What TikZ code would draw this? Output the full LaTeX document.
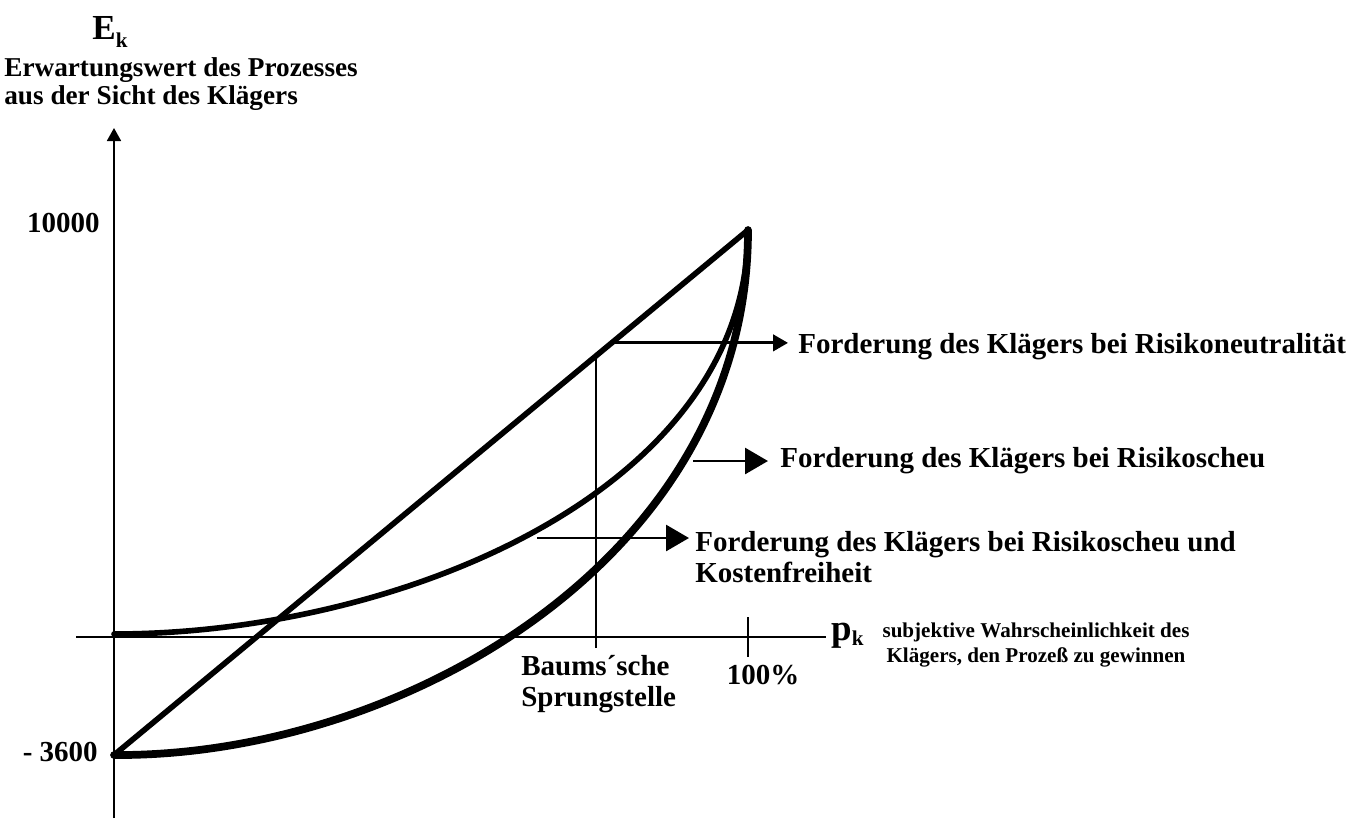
\documentclass[tikz,border=0pt]{standalone}
\usepackage{fontspec}
\setmainfont{Liberation Serif}
\usetikzlibrary{arrows.meta,calc}

\begin{document}
\begin{tikzpicture}[x=0.02cm,y=-0.02cm]
    \tikzset{
        lbl/.style={font=\bfseries\fontsize{16.5}{17.5}\selectfont, inner sep=0pt},
        small lbl/.style={font=\bfseries\fontsize{12}{14}\selectfont, inner sep=0pt},
        axis/.style={line width=1pt},
        thin line/.style={line width=1.5pt},
        curve/.style={line width=3.2pt, line cap=round, line join=round},
        pointer/.style={line width=1.6pt, -{Triangle[length=0.46cm,width=0.52cm]}},
        small pointer/.style={line width=1.6pt, -{Triangle[length=0.3cm,width=0.33cm]}}
    }
    \useasboundingbox (0,0) rectangle (1365,819);

    % Points
    \coordinate (ybot) at (114,818);
    \coordinate (ytop) at (114,128);
    \coordinate (xleft) at (76,637);
    \coordinate (xright) at (826,637);
    \coordinate (low) at (114,755);
    \coordinate (zero) at (114,634);
    \coordinate (top) at (748,230);
    \coordinate (baums) at ($(low)!0.76!(top)$);
    \coordinate (baumsfoot) at (baums |- 0,648);
    \coordinate (tickup) at (748,617);
    \coordinate (tickdown) at (748,657);
    \coordinate (neutral) at ($(low)!0.785!(top)$);
    \coordinate (scheu) at (693,461);
    \coordinate (frei) at (537,538);

    % Nodes
    \node (Ek) [anchor=base] at (110,39) {\bfseries\fontsize{20}{20}\selectfont E\raisebox{-0.25em}{\fontsize{12}{12}\selectfont k}};
    \node (yname) [anchor=west, align=left, inner sep=0pt, font=\bfseries\fontsize{15.5}{15.5}\selectfont] at (4,84)
        {Erwartungswert des Prozesses\\aus der Sicht des Klägers};
    \node (max) [lbl, anchor=east] at (100,223) {10000};
    \node (min) [lbl, anchor=east] at (98,752) {- 3600};
    \node (pk) [anchor=base west, inner sep=0pt] at (831,640) {\bfseries\fontsize{21}{21}\selectfont p\raisebox{-0.15em}{\fontsize{12}{12}\selectfont k}};
    \node (xname) [small lbl, align=center] at (1036,645)
        {subjektive Wahrscheinlichkeit des\\Klägers, den Prozeß zu gewinnen};
    \node (sprung) [lbl, anchor=west, align=left] at (521,684) {Baums´sche\\Sprungstelle};
    \node (hundert) [lbl] at (763,675) {100\%};
    \node (tneutral) [lbl, anchor=west] at (798,347) {Forderung des Klägers bei Risikoneutralität};
    \node (tscheu) [lbl, anchor=west] at (780,461) {Forderung des Klägers bei Risikoscheu};
    \node (tfrei) [lbl, anchor=west, align=left] at (695,557) {Forderung des Klägers bei Risikoscheu und\\Kostenfreiheit};

    % Axes
    \draw [axis, -{Triangle[length=0.26cm,width=0.28cm]}] (ybot) -- (ytop);
    \draw [axis] (xleft) -- (xright);
    \draw [thin line] (tickup) -- (tickdown);
    \draw [thin line] (baumsfoot) -- (baums);

    % Curves
    \draw [curve] (low) -- (top);
    \draw [curve] (zero) .. controls (400,634) and (748,490) .. (top);
    \draw [curve, line width=4.4pt] (low) .. controls (400,757) and (748,560) .. (top);

    % Arrows
    \draw [small pointer] (neutral) -- ($(neutral -| tneutral.west)+(-10,0)$);
    \draw [pointer] (scheu) -- ($(scheu -| tscheu.west)+(-12,0)$);
    \draw [pointer] (frei) -- ($(frei -| tfrei.west)+(-6,0)$);
\end{tikzpicture}
\end{document}
